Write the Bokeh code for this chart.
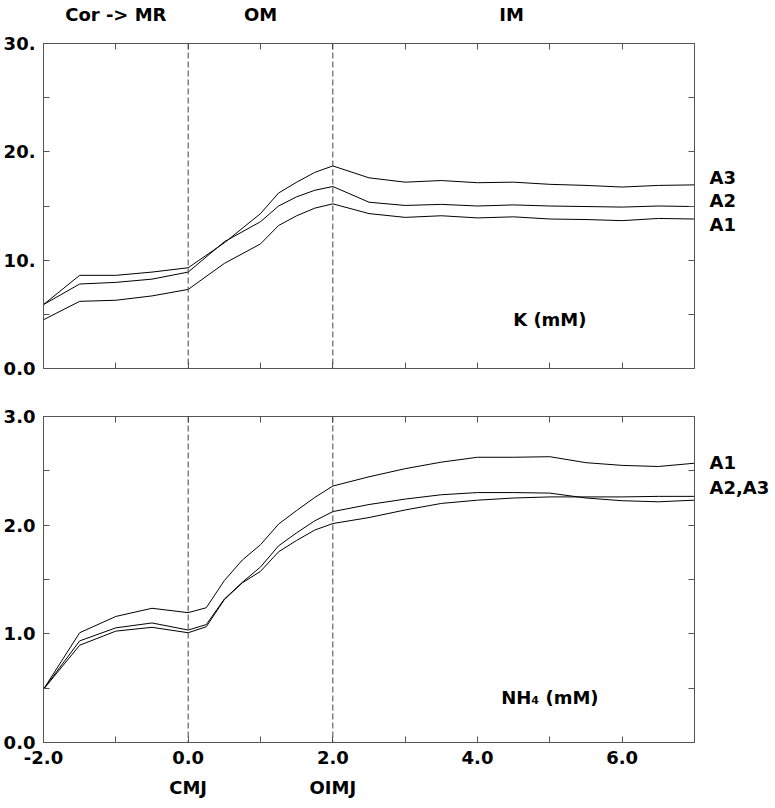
from bokeh.plotting import figure
from bokeh.models import Span, Label, LinearAxis, FixedTicker, Range1d
from bokeh.layouts import column
from bokeh.embed import file_html
from bokeh.resources import INLINE

# ---------------- data ----------------
# Top panel: K (mM)
k_x = [-2.0, -1.5, -1.0, -0.5, 0.0, 0.5, 1.0, 1.25, 1.5, 1.75, 2.0,
       2.5, 3.0, 3.5, 4.0, 4.5, 5.0, 5.5, 6.0, 6.5, 7.0]
k_a3 = [5.9, 8.6, 8.6, 8.9, 9.3, 11.6, 14.3, 16.2, 17.2, 18.1, 18.7,
        17.6, 17.2, 17.35, 17.15, 17.2, 17.0, 16.9, 16.75, 16.9, 16.95]
k_a2 = [5.9, 7.8, 7.95, 8.25, 8.9, 11.7, 13.55, 15.0, 15.85, 16.45, 16.8,
        15.35, 15.05, 15.15, 15.0, 15.1, 15.0, 14.95, 14.9, 15.0, 14.95]
k_a1 = [4.5, 6.2, 6.3, 6.7, 7.3, 9.7, 11.5, 13.2, 14.1, 14.8, 15.2,
        14.3, 13.95, 14.1, 13.9, 14.0, 13.8, 13.75, 13.65, 13.85, 13.8]

# Bottom panel: NH4 (mM)
n_x = [-2.0, -1.5, -1.0, -0.5, 0.0, 0.25, 0.5, 0.75, 1.0, 1.25, 1.5, 1.75, 2.0,
       2.5, 3.0, 3.5, 4.0, 4.5, 5.0, 5.5, 6.0, 6.5, 7.0]
n_a1 = [0.49, 1.01, 1.16, 1.235, 1.195, 1.24, 1.49, 1.68, 1.82, 2.01, 2.135, 2.255, 2.36,
        2.445, 2.52, 2.58, 2.625, 2.625, 2.63, 2.575, 2.55, 2.54, 2.57]
n_a2 = [0.49, 0.935, 1.055, 1.10, 1.035, 1.085, 1.32, 1.475, 1.615, 1.81, 1.93, 2.04, 2.125,
        2.19, 2.24, 2.28, 2.30, 2.30, 2.295, 2.25, 2.225, 2.215, 2.23]
n_a3 = [0.49, 0.895, 1.025, 1.06, 1.01, 1.065, 1.315, 1.47, 1.575, 1.755, 1.86, 1.955, 2.015,
        2.07, 2.14, 2.2, 2.23, 2.25, 2.26, 2.26, 2.26, 2.265, 2.265]

x_ticks = [-2, -1, 0, 1, 2, 3, 4, 5, 6, 7]
x_tick_labels = {-2: "-2.0", 0: "0.0", 2: "2.0", 4: "4.0", 6: "6.0"}
k_ticks = [0, 5, 10, 15, 20, 25, 30]
k_tick_labels = {0: "0.0", 10: "10.", 20: "20.", 30: "30."}
n_ticks = [0, 0.5, 1.0, 1.5, 2.0, 2.5, 3.0]
n_tick_labels = {0: "0.0", 1: "1.0", 2: "2.0", 3: "3.0"}

junctions = [0.0, 2.0]
junction_names = ["CMJ", "OIMJ"]
region_pos = [-1.0, 1.0, 4.47]
region_names = ["Cor -> MR", "OM", "IM"]
k_series_pos = [17.6, 15.5, 13.3]
k_series_names = ["A3", "A2", "A1"]
n_series_pos = [2.58, 2.35]
n_series_names = ["A1", "A2,A3"]

# ---------------- styling ----------------
FONT = "DejaVu Sans"
AXC = "#555555"


def style_axis(ax, ticks, labels, show, standoff=5):
    ax.ticker = FixedTicker(ticks=ticks)
    ax.major_label_overrides = {t: (labels.get(t, "") if show else "") for t in ticks}
    ax.minor_tick_line_color = None
    ax.major_tick_in = 6
    ax.major_tick_out = 0
    ax.major_tick_line_color = AXC
    ax.axis_line_color = AXC
    ax.major_label_standoff = standoff
    ax.major_label_text_font = FONT
    ax.major_label_text_font_style = "bold"
    ax.major_label_text_font_size = "18px"
    ax.major_label_text_color = "black"


def text_axis(ticks, names, standoff, **kw):
    ax = LinearAxis(**kw)
    ax.ticker = FixedTicker(ticks=ticks)
    ax.major_label_overrides = {t: n for t, n in zip(ticks, names)}
    ax.minor_tick_line_color = None
    ax.major_tick_line_color = None
    ax.axis_line_color = None
    ax.major_tick_in = 0
    ax.major_tick_out = 0
    ax.major_label_standoff = standoff
    ax.major_label_text_font = FONT
    ax.major_label_text_font_style = "bold"
    ax.major_label_text_font_size = "18px"
    ax.major_label_text_color = "black"
    return ax


def make_fig(height, top, bottom, yr, yticks, ylabels, show_x):
    p = figure(width=774, height=height, x_range=Range1d(-2, 7), y_range=Range1d(*yr),
               output_backend="svg", toolbar_location=None,
               min_border_left=40, min_border_right=80,
               min_border_top=top, min_border_bottom=bottom)
    p.grid.visible = False
    p.outline_line_color = None
    p.background_fill_color = "white"
    p.border_fill_color = "white"
    style_axis(p.xaxis[0], x_ticks, x_tick_labels, show_x, standoff=8)
    style_axis(p.yaxis[0], yticks, ylabels, True, standoff=8)
    ra = LinearAxis()
    style_axis(ra, yticks, ylabels, False, standoff=0)
    p.add_layout(ra, "right")
    ta = LinearAxis()
    style_axis(ta, x_ticks, x_tick_labels, False, standoff=0)
    p.add_layout(ta, "above")
    for j in junctions:
        p.add_layout(Span(location=j, dimension="height", line_color="#444444",
                          line_dash="6 3", line_width=1))
    return p


def lab(p, x, y, text):
    p.add_layout(Label(x=x, y=y, text=text, text_align="center", text_baseline="middle",
                       text_font=FONT, text_font_style="bold",
                       text_font_size="18px", text_color="black"))


# ---------------- top panel ----------------
p1 = make_fig(391, 42, 23, (0, 30), k_ticks, k_tick_labels, False)
for ys in (k_a1, k_a2, k_a3):
    p1.line(k_x, ys, line_color="black", line_width=1)
p1.add_layout(text_axis(region_pos, region_names, 19), "above")
p1.add_layout(text_axis(k_series_pos, k_series_names, 15), "right")
lab(p1, 5.0, 4.5, "K (mM)")

# ---------------- bottom panel ----------------
p2 = make_fig(411, 25, 60, (0, 3), n_ticks, n_tick_labels, True)
for ys in (n_a1, n_a2, n_a3):
    p2.line(n_x, ys, line_color="black", line_width=1)
p2.add_layout(text_axis(n_series_pos, n_series_names, 15), "right")
p2.add_layout(text_axis(junctions, junction_names, 10), "below")
lab(p2, 5.0, 0.41, "NH\u2084 (mM)")

layout = column(p1, p2, spacing=0)
open("out.html", "w").write(file_html(layout, INLINE))
